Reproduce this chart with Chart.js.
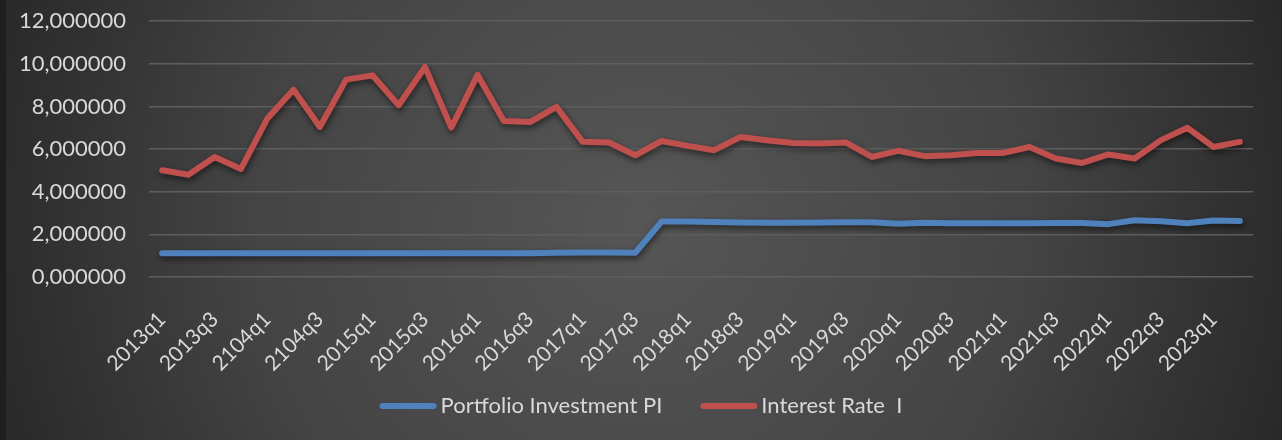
<!DOCTYPE html>
<html>
<head>
<meta charset="utf-8">
<script src="https://cdn.jsdelivr.net/npm/chart.js@4"></script>
<style>
  html, body { margin: 0; padding: 0; background: #2a2a2a; }
  #wrap { width: 1282px; height: 440px; }
</style>
</head>
<body>
<div id="wrap"><canvas id="chart" width="1282" height="440"></canvas></div>
<script>
const quarters = [
  '2013q1','2013q2','2013q3','2013q4','2104q1','2104q2','2104q3','2104q4',
  '2015q1','2015q2','2015q3','2015q4','2016q1','2016q2','2016q3','2016q4',
  '2017q1','2017q2','2017q3','2017q4','2018q1','2018q2','2018q3','2018q4',
  '2019q1','2019q2','2019q3','2019q4','2020q1','2020q2','2020q3','2020q4',
  '2021q1','2021q2','2021q3','2021q4','2022q1','2022q2','2022q3','2022q4',
  '2023q1','2023q2'
];

const portfolioPI = [
  1.12, 1.12, 1.12, 1.12, 1.12, 1.12, 1.12, 1.12, 1.12, 1.12,
  1.12, 1.12, 1.12, 1.12, 1.12, 1.14, 1.15, 1.15, 1.14, 2.60,
  2.60, 2.58, 2.56, 2.55, 2.55, 2.56, 2.57, 2.57, 2.50, 2.54,
  2.52, 2.52, 2.52, 2.52, 2.53, 2.53, 2.48, 2.66, 2.61, 2.52,
  2.65, 2.63
];

const interestRate = [
  5.01, 4.80, 5.63, 5.07, 7.43, 8.79, 7.04, 9.26, 9.46, 8.06,
  9.85, 7.01, 9.48, 7.32, 7.27, 7.98, 6.34, 6.31, 5.71, 6.38,
  6.15, 5.95, 6.57, 6.42, 6.29, 6.26, 6.31, 5.63, 5.92, 5.67,
  5.71, 5.82, 5.82, 6.10, 5.56, 5.35, 5.75, 5.56, 6.42, 7.00,
  6.10, 6.34
];

const yTicks = [0, 2, 4, 6, 8, 10, 12];

const FONT = 'Lato, "Open Sans", sans-serif';
const TEXT = '#d9d9d9';

// dark radial backdrop, like the office theme
const backdrop = {
  id: 'backdrop',
  beforeDraw(chart) {
    const c = chart.ctx;
    const w = chart.width, h = chart.height;
    c.save();
    const g = c.createRadialGradient(w / 2, h / 2, 0, w / 2, h / 2, w * 0.55);
    g.addColorStop(0, '#565656');
    g.addColorStop(0.55, '#444444');
    g.addColorStop(1, '#262626');
    c.fillStyle = g;
    c.fillRect(0, 0, w, h);
    c.fillStyle = '#1f1f1f';
    c.fillRect(0, 0, 6, h);
    c.restore();
  }
};

const lineShadow = {
  id: 'lineShadow',
  beforeDatasetsDraw(chart) {
    const c = chart.ctx;
    c.save();
    c.shadowColor = 'rgba(0,0,0,0.55)';
    c.shadowBlur = 6;
    c.shadowOffsetX = 1;
    c.shadowOffsetY = 3;
  },
  afterDatasetsDraw(chart) {
    chart.ctx.restore();
  }
};

// excel style legend: long rounded swatch, text tight against it
const bottomLegend = {
  id: 'bottomLegend',
  afterDraw(chart) {
    const c = chart.ctx;
    const sw = 57, gapText = 4, gapItem = 38, y = 406;
    c.save();
    c.font = '22px ' + FONT;
    c.textBaseline = 'middle';
    const items = chart.data.datasets.map(ds => ({
      label: ds.label, color: ds.borderColor, w: c.measureText(ds.label).width
    }));
    let total = 0;
    items.forEach((it, i) => { total += sw + gapText + it.w + (i ? gapItem : 0); });
    let x = (chart.width - total) / 2;
    items.forEach((it) => {
      c.strokeStyle = it.color;
      c.lineWidth = 6;
      c.lineCap = 'round';
      c.beginPath();
      c.moveTo(x + 3, y);
      c.lineTo(x + sw - 3, y);
      c.stroke();
      c.fillStyle = TEXT;
      c.fillText(it.label, x + sw + gapText, y);
      x += sw + gapText + it.w + gapItem;
    });
    c.restore();
  }
};

const ctx = document.getElementById('chart');

Chart.defaults.color = TEXT;
Chart.defaults.font.family = FONT;

const chart = new Chart(ctx, {
  type: 'line',
  data: {
    labels: quarters,
    datasets: [{
      label: 'Portfolio Investment PI',
      data: portfolioPI,
      borderColor: '#4f81bd',
      backgroundColor: '#4f81bd',
      borderWidth: 6,
      pointRadius: 0,
      borderCapStyle: 'round',
      borderJoinStyle: 'round'
    }, {
      label: 'Interest Rate  I',
      data: interestRate,
      borderColor: '#c0504d',
      backgroundColor: '#c0504d',
      borderWidth: 6,
      pointRadius: 0,
      borderCapStyle: 'round',
      borderJoinStyle: 'round'
    }]
  },
  options: {
    responsive: false,
    animation: false,
    layout: {
      padding: { left: 10, right: 29, top: 0, bottom: 0 }
    },
    plugins: {
      legend: { display: false },
      tooltip: { enabled: false }
    },
    scales: {
      x: {
        offset: true,
        grid: { display: false },
        border: { display: false },
        afterFit: (s) => { s.height = 163; },
        ticks: {
          autoSkip: false,
          maxRotation: 45,
          minRotation: 45,
          padding: 22,
          font: { size: 21 },
          color: TEXT,
          callback: function (v, i) {
            return i % 2 === 0 ? quarters[i] : '';
          }
        }
      },
      y: {
        min: 0,
        max: 12,
        afterBuildTicks: (s) => { s.ticks = yTicks.map(v => ({ value: v })); },
        afterFit: (s) => { s.width = 139; },
        grid: { color: '#5e5e5e', lineWidth: 1.5, drawTicks: true, tickLength: 15, tickColor: 'rgba(0,0,0,0)' },
        border: { display: false },
        ticks: {
          padding: 8,
          font: { size: 22 },
          color: TEXT,
          callback: (v) => v.toLocaleString('de-DE', { minimumFractionDigits: 6, maximumFractionDigits: 6 }).replace(/\./g, '')
        }
      }
    }
  },
  plugins: [backdrop, lineShadow, bottomLegend]
});
</script>
</body>
</html>
